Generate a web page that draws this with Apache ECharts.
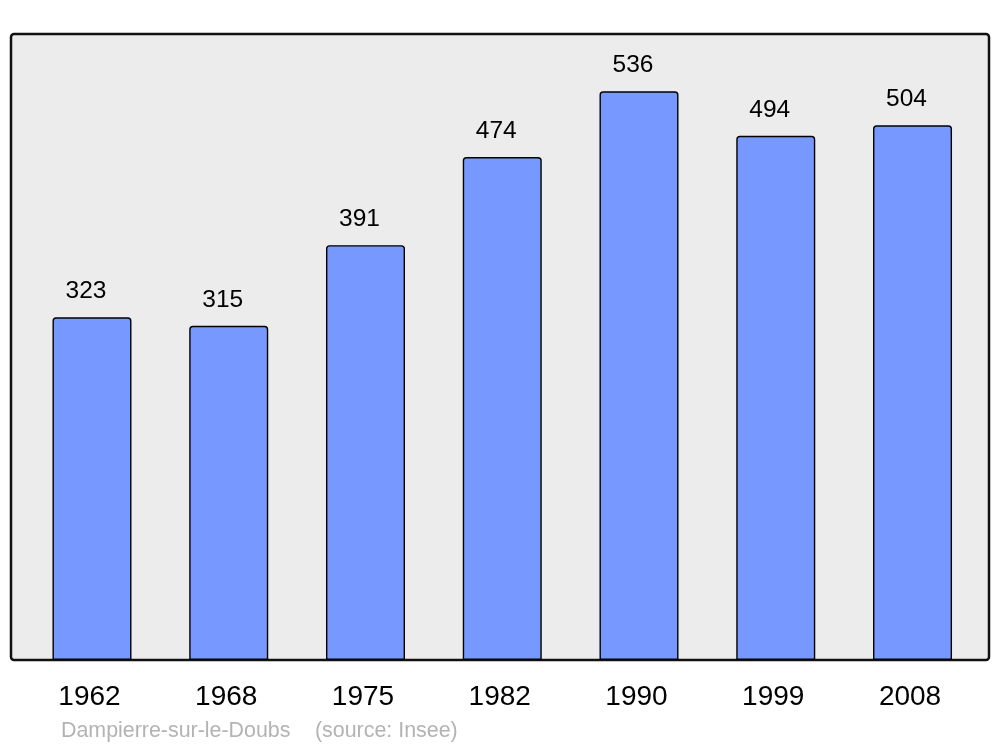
<!DOCTYPE html>
<html>
<head>
<meta charset="utf-8">
<script src="https://cdn.jsdelivr.net/npm/echarts@6/dist/echarts.min.js"></script>
<style>html,body{margin:0;padding:0;background:#fff;}#c{width:1000px;height:747px;}</style>
</head>
<body>
<div id="c"></div>
<script>
const years = ['1962', '1968', '1975', '1982', '1990', '1999', '2008'];
const population = [323, 315, 391, 474, 536, 494, 504];
const footerName = 'Dampierre-sur-le-Doubs';
const footerSource = '(source: Insee)';

const FONT = 'Liberation Sans, Arial, sans-serif';
const chart = echarts.init(document.getElementById('c'), null, {renderer: 'canvas'});
chart.setOption({
  animation: false,
  backgroundColor: '#ffffff',
  textStyle: {fontFamily: FONT},
  graphic: [
    {type: 'rect', z: -10, shape: {x: 11, y: 34, width: 978, height: 626, r: 3},
     style: {fill: '#ececec', stroke: '#111', lineWidth: 2.5}},
    {type: 'text', left: 61, top: 721, style: {text: footerName, fill: '#b3b3b3', font: '21.4px ' + FONT}},
    {type: 'text', left: 315, top: 721, style: {text: footerSource, fill: '#b3b3b3', font: '21.4px ' + FONT}}
  ],
  grid: {left: 23.6, right: 19.1, top: 34, bottom: 87, containLabel: false},
  xAxis: {
    type: 'category', data: years,
    axisLine: {show: false}, axisTick: {show: false},
    axisLabel: {color: '#000', fontSize: 28, margin: 23, fontFamily: FONT, padding: [0, 5, 0, 0]}
  },
  yAxis: {type: 'value', min: 0, max: 590, show: false, splitLine: {show: false}},
  series: [{
    type: 'bar', data: population, barWidth: 79, z: 2,
    itemStyle: {color: '#7799ff', borderColor: '#000', borderWidth: 1.4, borderRadius: [3, 3, 0, 0]},
    label: {show: true, position: 'top', distance: 13.5, offset: [-6, 0], color: '#000', fontSize: 24.5, fontFamily: FONT}
  }]
});
</script>
</body>
</html>
